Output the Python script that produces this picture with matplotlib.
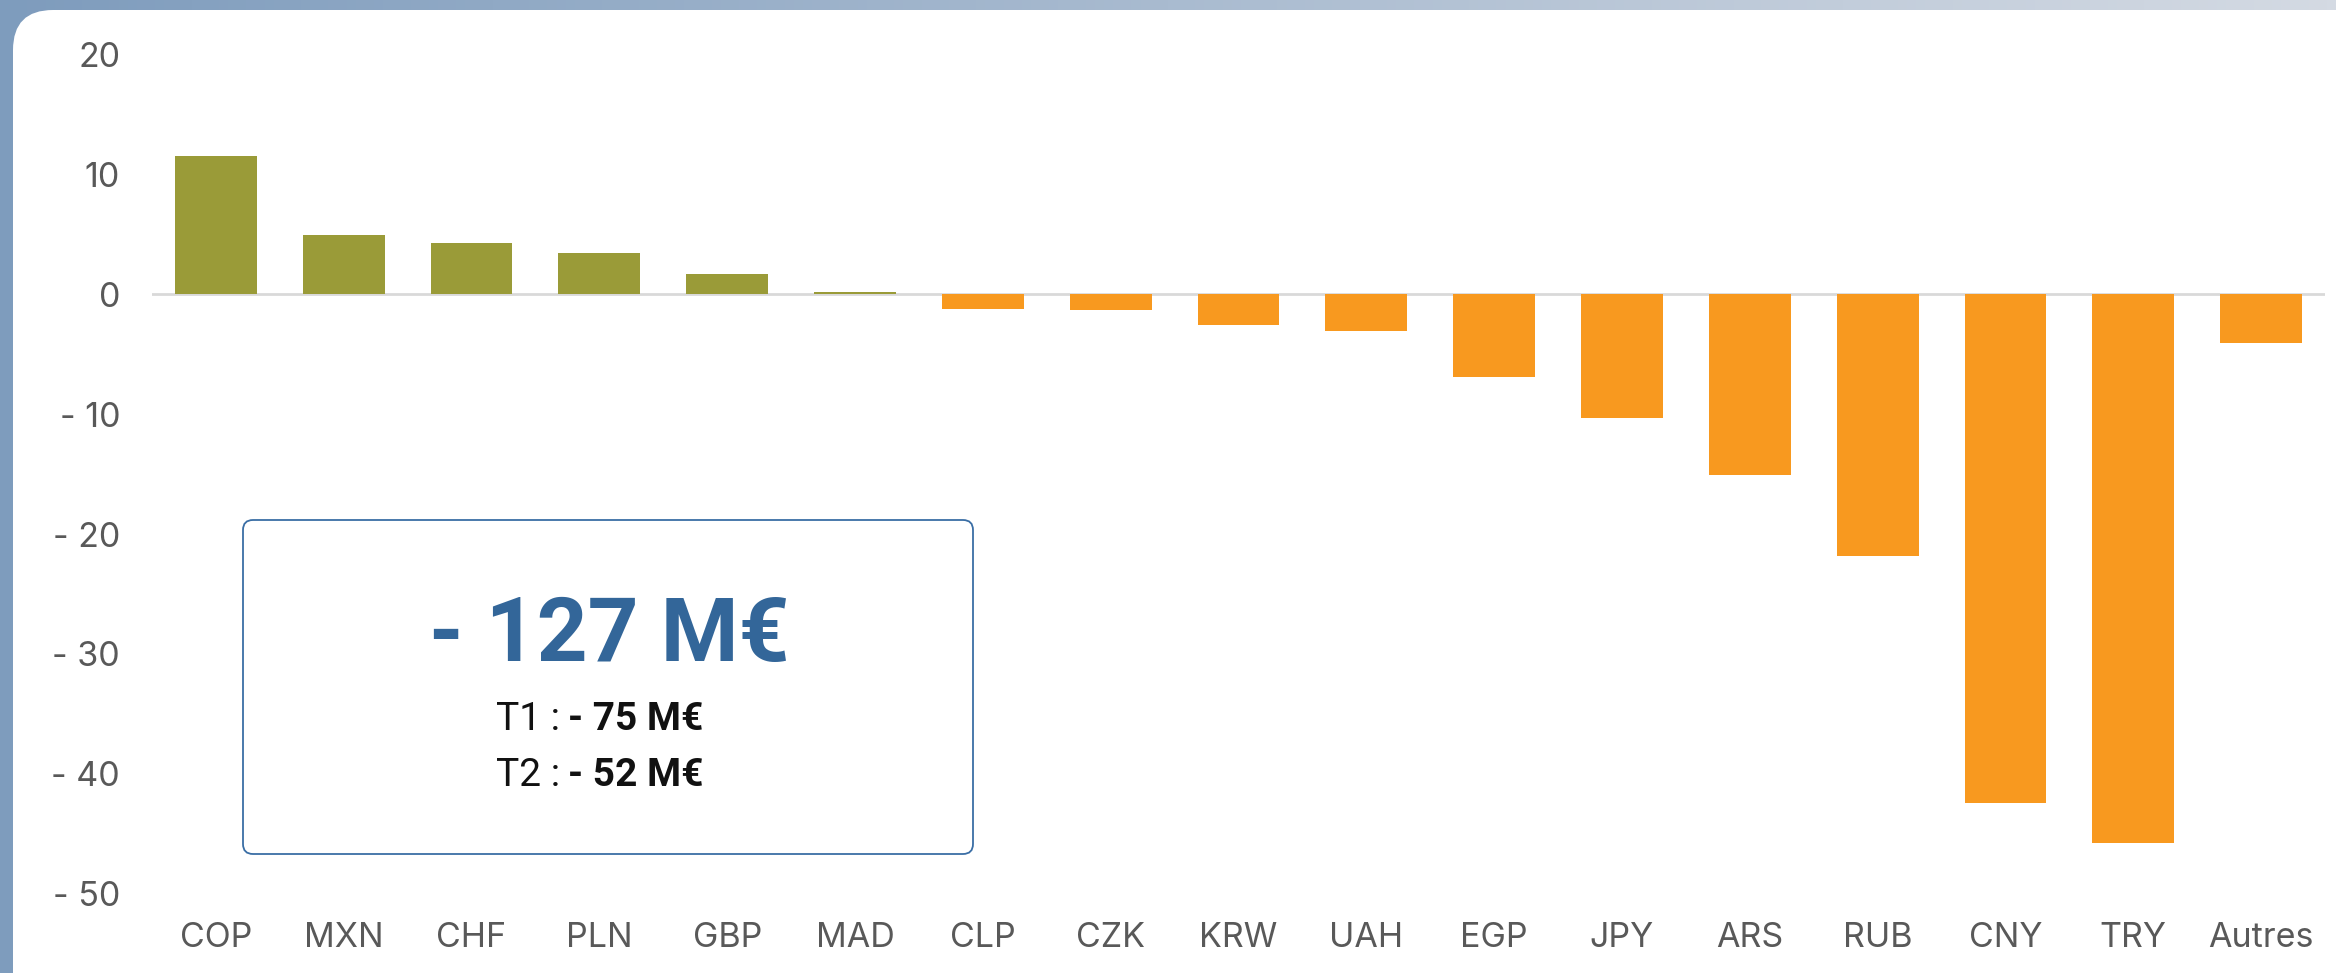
import matplotlib
matplotlib.use("Agg")
import matplotlib.pyplot as plt
import numpy as np
from matplotlib.patches import FancyBboxPatch

# currency contributions (M€)
currencies = ['COP', 'MXN', 'CHF', 'PLN', 'GBP', 'MAD', 'CLP', 'CZK', 'KRW',
              'UAH', 'EGP', 'JPY', 'ARS', 'RUB', 'CNY', 'TRY', 'Autres']
values = [11.5, 4.9, 4.25, 3.4, 1.7, 0.2, -1.25, -1.3, -2.6,
          -3.1, -6.9, -10.3, -15.1, -21.8, -42.4, -45.75, -4.1]

y_ticks = [20, 10, 0, -10, -20, -30, -40, -50]
y_labels = ['20', '10', '0', '- 10', '- 20', '- 30', '- 40', '- 50']

total_label = '- 127 M€'
quarters = ['T1 :', 'T2 :']
quarter_values = ['- 75 M€', '- 52 M€']

POS_COLOR = '#9a9b38'
NEG_COLOR = '#f8991f'
TICK_COLOR = '#595959'
BLUE = '#336699'

W, H = 2336, 973
fig = plt.figure(figsize=(W / 100, H / 100), dpi=100)

# background gradient + white rounded panel
bg = fig.add_axes([0, 0, 1, 1])
bg.set_xlim(0, W)
bg.set_ylim(H, 0)
bg.axis('off')
grad = np.linspace(0, 1, 256)
c0 = np.array([126, 156, 189]) / 255.0
c1 = np.array([212, 218, 227]) / 255.0
img = c0[None, None, :] * (1 - grad[None, :, None]) + c1[None, None, :] * grad[None, :, None]
bg.imshow(img, extent=[0, W, H, 0], aspect='auto')
bg.add_patch(FancyBboxPatch((13, 10), W + 40, H + 40,
                            boxstyle='round,pad=0,rounding_size=40',
                            facecolor='white', edgecolor='none'))

# main chart
ax = fig.add_axes([152 / W, (H - 894) / H, (2325 - 152) / W, (894 - 54) / H])
ax.patch.set_alpha(0)
x = np.arange(len(currencies))
colors = [POS_COLOR if v >= 0 else NEG_COLOR for v in values]
ax.bar(x, values, width=0.64, color=colors, zorder=2)
ax.axhline(0, color='#d9d9d9', lw=2, zorder=1)

ax.set_xlim(-0.5, len(currencies) - 0.5)
ax.set_ylim(-50, 20)
ax.set_yticks(y_ticks)
ax.set_yticklabels(y_labels)
ax.set_xticks(x)
ax.set_xticklabels(currencies)
for s in ax.spines.values():
    s.set_visible(False)
ax.tick_params(axis='both', length=0, labelsize=24.5, labelcolor=TICK_COLOR)
ax.tick_params(axis='y', pad=23)
ax.tick_params(axis='x', pad=20)
for lab in ax.get_xticklabels() + ax.get_yticklabels():
    lab.set_fontfamily(['Inter', 'DejaVu Sans'])

# summary box
ov = fig.add_axes([0, 0, 1, 1])
ov.set_xlim(0, W)
ov.set_ylim(H, 0)
ov.axis('off')
ov.patch.set_alpha(0)
ov.add_patch(FancyBboxPatch((243, 520), 730, 334,
                            boxstyle='round,pad=0,rounding_size=10',
                            facecolor='none', edgecolor='#3a6ea5', lw=1.3))
narrow = ['Roboto', 'DejaVu Sans']
ov.text(609, 637, total_label, ha='center', va='center', fontsize=64,
        fontweight='bold', color=BLUE, family=narrow)
for i, (q, v) in enumerate(zip(quarters, quarter_values)):
    yy = 719 + i * 56
    ov.text(560, yy, q, ha='right', va='center', fontsize=28,
            color='#111111', family=narrow)
    ov.text(568, yy, v, ha='left', va='center', fontsize=28,
            fontweight='bold', color='#111111', family=narrow)

fig.savefig('out.png', dpi=100)
